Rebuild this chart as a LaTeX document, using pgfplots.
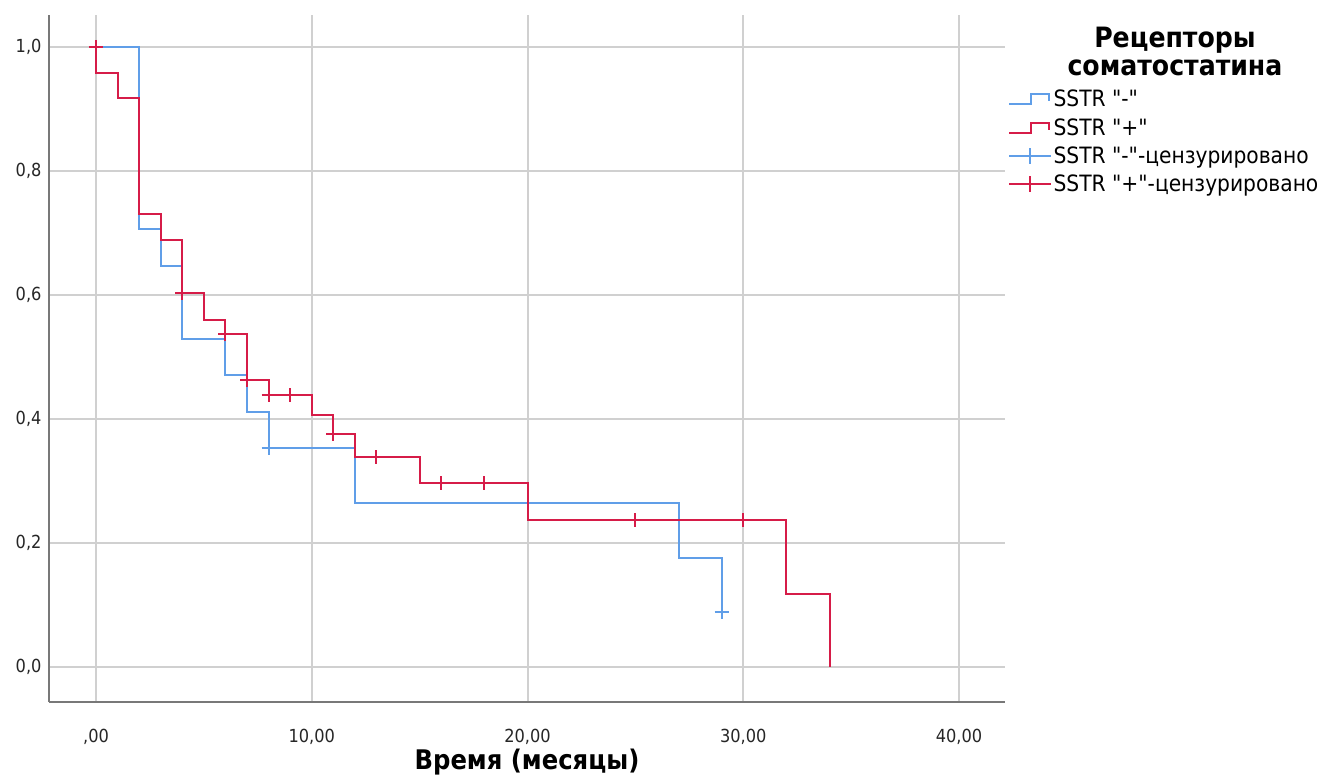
\documentclass[border=0pt]{standalone}
\usepackage{pgfplots}
\pgfplotsset{compat=1.18}
\usepackage{fontspec}
\setmainfont{DejaVu Sans Condensed}
\newfontfamily\qf{DejaVu Sans Condensed}
\definecolor{kmblue}{RGB}{96,158,232}
\definecolor{kmred}{RGB}{214,28,72}
\definecolor{gridgray}{RGB}{208,208,208}
\definecolor{axgray}{RGB}{120,120,120}
\newcommand{\q}{\symbol{34}}
\begin{document}
\begin{tikzpicture}
\path[use as bounding box] (0,0) rectangle (1331pt,-783pt);
\begin{axis}[
  at={(49pt,-702pt)}, anchor=south west,
  scale only axis, width=956pt, height=687pt,
  xmin=-2.178, xmax=42.13, ymin=-0.0565, ymax=1.0516,
  axis x line*=bottom, axis y line*=left,
  axis line style={axgray, line width=1.5pt, -},
  xtick={0,10,20,30,40}, xticklabels={{,00},{10,00},{20,00},{30,00},{40,00}},
  ytick={0,0.2,0.4,0.6,0.8,1.0}, yticklabels={{0,0},{0,2},{0,4},{0,6},{0,8},{1,0}},
  major tick length=0pt,
  grid=major, major grid style={gridgray, line width=2pt},
  tick label style={font=\fontsize{18}{21}\selectfont, text=black!85},
  xticklabel style={yshift=-24pt},
  yticklabel style={xshift=-4pt},
  xlabel={\bfseries Время (месяцы)},
  xlabel style={font=\fontsize{27}{30}\selectfont, at={(0.5,0)}, anchor=center, yshift=-60pt},
  legend cell align=left,
  legend style={at={(1.003,0.893)}, anchor=north west, draw=none, fill=none,
    font=\qf\fontsize{22.5}{26}\selectfont, row sep=7pt, inner sep=0pt,
    nodes={inner sep=1.5pt}},
]
\addplot[kmblue, line width=2pt, const plot, mark=none,
  legend image code/.code={\draw[kmblue, line width=2pt] (0pt,-5pt) -- (22pt,-5pt) -- (22pt,5pt) -- (40pt,5pt) -- (40pt,-2pt);}]
  coordinates {(0,1) (2,0.706) (3,0.647) (4,0.529) (6,0.471) (7,0.412) (8,0.353) (12,0.265) (27,0.176) (29,0.088)};
\addlegendentry{SSTR \q-\q}
\addplot[kmred, line width=2pt, const plot, mark=none,
  legend image code/.code={\draw[kmred, line width=2pt] (0pt,-5pt) -- (22pt,-5pt) -- (22pt,5pt) -- (40pt,5pt) -- (40pt,-2pt);}]
  coordinates {(0,1) (0,0.958) (1,0.917) (2,0.730) (3,0.688) (4,0.604) (5,0.560) (6,0.537) (7,0.463) (8,0.438) (10,0.406) (11,0.375) (12,0.338) (15,0.296) (20,0.237) (32,0.118) (34,0)};
\addlegendentry{SSTR \q+\q}
\addplot[kmblue, only marks, mark=+, mark size=7pt, mark options={line width=2pt},
  legend image code/.code={\draw[kmblue, line width=2pt] (0pt,0pt) -- (42pt,0pt); \draw[kmblue, line width=2pt] (21pt,-8pt) -- (21pt,8pt);}]
  coordinates {(8,0.353) (29,0.088)};
\addlegendentry{SSTR \q-\q-цензурировано}
\addplot[kmred, only marks, mark=+, mark size=7pt, mark options={line width=2pt},
  legend image code/.code={\draw[kmred, line width=2pt] (0pt,0pt) -- (42pt,0pt); \draw[kmred, line width=2pt] (21pt,-8pt) -- (21pt,8pt);}]
  coordinates {(0,1.0) (4,0.604) (6,0.537) (7,0.463) (8,0.438) (9,0.438) (11,0.375) (13,0.338) (16,0.296) (18,0.296) (25,0.237) (30,0.237)};
\addlegendentry{SSTR \q+\q-цензурировано}
\end{axis}
\node[font=\fontsize{28}{28}\selectfont\bfseries, align=center] at (1175pt,-51pt) {Рецепторы\\соматостатина};
\end{tikzpicture}
\end{document}
